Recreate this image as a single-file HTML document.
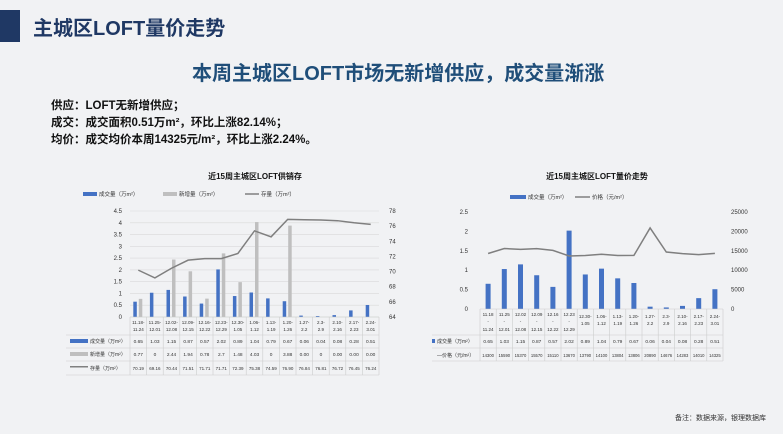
<!DOCTYPE html>
<html><head><meta charset="utf-8"><style>
body{margin:0;width:783px;height:434px;background:#f1f2f4;font-family:"Liberation Sans","Noto Sans CJK SC",sans-serif;overflow:hidden;position:relative}
.a{position:absolute;white-space:nowrap}
</style></head><body>
<div class="a" style="left:0;top:10px;width:20px;height:32px;background:#1f3864"></div>
<div class="a" style="left:33px;top:12px;font-size:20px;font-weight:bold;color:#1f3864">主城区LOFT量价走势</div>
<div class="a" style="left:192px;top:57px;font-size:20px;font-weight:bold;color:#1f4e79">本周主城区LOFT市场无新增供应，成交量渐涨</div>
<div class="a" style="left:51px;top:98px;font-size:11.5px;font-weight:bold;color:#111;line-height:17px">供应：LOFT无新增供应；<br>成交：成交面积0.51万m²，环比上涨82.14%；<br>均价：成交均价本周14325元/m²，环比上涨2.24%。</div>
<div class="a" style="left:675px;top:413px;font-size:7px;color:#333">备注：数据来源，银理数据库</div>
<svg id="c1" class="a" style="left:0;top:0" width="783" height="434"></svg>
<script>
const cats1=["11.18-11.24","11.25-12.01","12.02-12.08","12.09-12.15","12.16-12.22","12.23-12.29","12.30-1.05","1.06-1.12","1.13-1.19","1.20-1.26","1.27-2.2","2.3-2.9","2.10-2.16","2.17-2.23","2.24-3.01"];
const deal=[0.65,1.03,1.15,0.87,0.57,2.02,0.89,1.04,0.79,0.67,0.06,0.04,0.08,0.28,0.51];
const newS=[0.77,0,2.44,1.94,0.78,2.7,1.48,4.03,0,3.88,0,0,0,0,0];
const newLbl=["0.77","0","2.44","1.94","0.78","2.7","1.48","4.03","0","3.88","0.00","0","0.00","0.00","0.00"];
const stock=[70.19,69.16,70.44,71.51,71.71,71.71,72.39,75.38,74.59,76.90,76.84,76.81,76.72,76.45,76.24];
const price=[14300,15590,15370,15570,15110,13670,13790,14100,13804,13806,20890,14676,14283,14010,14325];
const leftTicks=[0,0.5,1,1.5,2,2.5,3,3.5,4,4.5],rightTicks1=[64,66,68,70,72,74,76,78];
const leftTicks2=[0,0.5,1,1.5,2,2.5],rightTicks2=[0,5000,10000,15000,20000,25000];
const svg=document.getElementById('c1');const NS='http://www.w3.org/2000/svg';
function el(t,a,txt){const e=document.createElementNS(NS,t);for(const k in a)e.setAttribute(k,a[k]);if(txt!==undefined)e.textContent=txt;svg.appendChild(e);return e;}
function tx(x,y,s,sz,anc,name,col,bold){const e=el('text',{x:x,y:y,'font-size':sz,'text-anchor':anc||'middle',fill:col||'#333','font-weight':bold?'bold':'normal'},s);

return e;}
// chart 1
{const X0=130,X1=379,Y0=317,Y1=211,n=cats1.length,w=(X1-X0)/n;
const y=v=>Y0-(v/4.5)*(Y0-Y1),yr=v=>Y0-((v-64)/14)*(Y0-Y1),xc=i=>X0+w*(i+.5);
tx(255,179,'近15周主城区LOFT供销存',8,'middle','chart1-title','#111',true);
[['#4472c4','成交量（万m²）',125,'rect'],['#bfbfbf','新增量（万m²）',205,'rect'],['#808080','存量（万m²）',287,'line']].forEach(l=>{
 const r=el(l[3]=='rect'?'rect':'line',l[3]=='rect'?{x:l[2]-42,y:192,width:14,height:4,fill:l[0]}:{x1:l[2]-42,x2:l[2]-28,y1:194,y2:194,stroke:l[0],'stroke-width':1.5});
 
 
 tx(l[2]-26,196,l[1],5.5,'start','legend-entry');});
leftTicks.forEach(t=>{const g=el('line',{x1:X0,x2:X1,y1:y(t),y2:y(t),stroke:'#d9d9d9','stroke-width':0.6});tx(X0-8,y(t)+2,String(t),6,'end','y-tick-left');});
rightTicks1.forEach(t=>tx(X1+10,yr(t)+2,String(t),6,'start','y-tick-right'));
deal.forEach((v,i)=>{const r=el('rect',{x:xc(i)-5,y:y(v),width:3.5,height:Y0-y(v),fill:'#4472c4'});});
newS.forEach((v,i)=>{const r=el('rect',{x:xc(i)+0.5,y:y(v),width:3.5,height:Y0-y(v),fill:'#bfbfbf'});});
const p=el('polyline',{points:stock.map((v,i)=>xc(i)+','+yr(v)).join(' '),fill:'none',stroke:'#7f7f7f','stroke-width':1.5});
const TL=66,rows=[317,335,348,361,375];
rows.forEach((r,k)=>{const g=el('line',{x1:k==0?X0:TL,x2:X1,y1:r,y2:r,stroke:'#ccc','stroke-width':0.6});});
for(let i=0;i<=n;i++){const g=el('line',{x1:X0+w*i,x2:X0+w*i,y1:317,y2:375,stroke:'#ccc','stroke-width':0.6});}
cats1.forEach((c,i)=>{const s=c.split('-');tx(xc(i),324,s[0]+'-',4.5,'middle','x-label');tx(xc(i),331,s[1],4.5,'middle','x-label');
 tx(xc(i),343,deal[i].toFixed(2),4.8,'middle','table-value-deal');tx(xc(i),356,newLbl[i],4.8,'middle','table-value-new');tx(xc(i),370,stock[i].toFixed(2),4.5,'middle','table-value-stock');});
[[343,'成交量（万m²）','#4472c4'],[356,'新增量（万m²）','#bfbfbf'],[370,'存量（万m²）','#808080']].forEach((r,k)=>{const e=el('rect',{x:70,y:r[0]-4,width:18,height:k==2?1.5:4,fill:r[2]});tx(90,r[0],r[1],5,'start','table-row-label');});
}
// chart 2
{const X0=480,X1=723,Y0=309,Y1=212,n=cats1.length,w=(X1-X0)/n;
const y=v=>Y0-(v/2.5)*(Y0-Y1),yr=v=>Y0-(v/25000)*(Y0-Y1),xc=i=>X0+w*(i+.5);
tx(597,179,'近15周主城区LOFT量价走势',8,'middle','chart2-title','#111',true);
let r=el('rect',{x:510,y:195,width:16,height:4,fill:'#4472c4'});
tx(528,199,'成交量（万m²）',5.5,'start','legend-entry');
r=el('line',{x1:575,x2:590,y1:197,y2:197,stroke:'#808080','stroke-width':1.5});
tx(592,199,'价格（元/m²）',5.5,'start','legend-entry');
leftTicks2.forEach(t=>tx(X0-12,y(t)+2,String(t),6,'end','y-tick-left'));
rightTicks2.forEach(t=>tx(X1+8,yr(t)+2,String(t),6,'start','y-tick-right'));
deal.forEach((v,i)=>{const b=el('rect',{x:xc(i)-2.5,y:y(v),width:5,height:Y0-y(v),fill:'#4472c4'});});
const p=el('polyline',{points:price.map((v,i)=>xc(i)+','+yr(v)).join(' '),fill:'none',stroke:'#7f7f7f','stroke-width':1.5});
[309,335,348,361].forEach((rr,k)=>{const g=el('line',{x1:k==0?X0:432,x2:X1,y1:rr,y2:rr,stroke:'#ccc','stroke-width':0.6});});
for(let i=0;i<=n;i++){const g=el('line',{x1:X0+w*i,x2:X0+w*i,y1:309,y2:361,stroke:'#ccc','stroke-width':0.6});}
cats1.forEach((c,i)=>{const s=c.split('-');
 if(i<6){tx(xc(i),316,s[0],4.5,'middle','x-label');tx(xc(i),323,'-',4.5,'middle','x-label');tx(xc(i),331,s[1],4.5,'middle','x-label');}
 else{tx(xc(i),318,s[0]+'-',4.5,'middle','x-label');tx(xc(i),325,s[1],4.5,'middle','x-label');}
 tx(xc(i),343,deal[i].toFixed(2),4.8,'middle','table-value-deal');tx(xc(i),357,String(price[i]),4.2,'middle','table-value-price');});
r=el('rect',{x:432,y:339,width:3,height:4,fill:'#4472c4'});
tx(437,343,'成交量（万m²）',5,'start','table-row-label');
tx(437,357,'—价格（元/m²）',5,'start','table-row-label');
}
</script>
</body></html>
